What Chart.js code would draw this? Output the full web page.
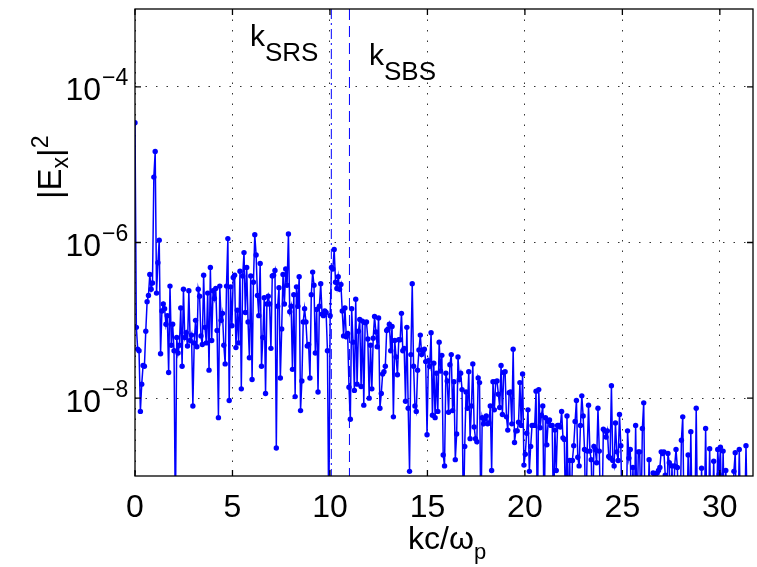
<!DOCTYPE html>
<html>
<head>
<meta charset="utf-8">
<script src="https://cdn.jsdelivr.net/npm/chart.js@4.4.1/dist/chart.umd.min.js"></script>
<style>
  html, body { margin: 0; padding: 0; background: #fff; }
  #wrap { width: 757px; height: 567px; }
</style>
</head>
<body>
<div id="wrap"><canvas id="spec"></canvas></div>
<script>
// log10(|Ex|^2) in order of k; -9.6 = below the axis
const segA = [-4.46, -7.09, -7.37, -7.39, -8.17, -7.82, -7.58, -7.59, -7.14, -6.76, -6.68, -6.41, -6.60, -6.52, -5.16, -4.83, -6.65, -6.26, -5.97, -7.43,
  -6.88, -6.79, -6.85, -7.05, -6.94, -7.67, -6.56, -7.32, -7.05, -7.39, -9.6, -7.22, -7.42, -7.32, -6.84, -7.59, -6.60, -7.22, -7.16, -7.33,
  -6.62, -7.26, -7.19, -8.10, -7.29, -7.00, -7.34, -6.60, -6.69, -7.20, -7.31, -6.42, -7.09, -7.29, -6.65, -7.64, -6.32];
const segB = [-7.26, -6.62, -6.72, -6.59, -7.13, -8.25, -6.56, -7.00, -6.91, -7.32, -7.56, -6.56, -5.95, -8.03, -6.57, -7.07, -6.45, -6.42, -7.35, -6.87,
  -7.29, -6.37, -7.88, -6.43, -6.13, -6.90, -6.32, -7.02, -7.48, -6.43, -7.76, -6.51, -5.90, -6.16, -6.68, -6.94, -6.27, -7.59, -7.22, -6.71,
  -7.94, -6.79, -6.69, -6.79, -7.36, -6.43, -6.42, -6.36, -8.64, -6.82, -6.58, -7.74, -7.11, -6.41, -6.79, -6.34];
const segC = [-6.55, -5.89, -6.89, -6.82, -7.63, -6.67, -7.98, -6.57, -6.82, -6.44, -8.16, -7.78, -7.02, -6.85, -7.02, -7.33, -7.31, -7.74, -6.67, -6.38,
  -6.55, -7.42, -6.86, -7.92, -6.82, -6.53, -6.92, -6.94, -6.88, -6.90, -7.39, -9.6, -6.94, -6.32, -6.34, -6.09, -6.51, -6.59, -6.44, -6.60,
  -6.54, -6.88, -7.20, -6.84, -7.21, -7.17, -7.86, -8.27, -6.85, -7.28, -7.90, -6.73, -7.82, -7.14, -6.99, -7.85, -7.01, -8.09, -7.03];
const segD = [-7.02, -7.24, -8.00, -7.32, -7.88, -7.23, -6.95, -7.15, -7.34, -6.97, -8.13, -7.94, -7.69, -7.66, -7.59, -7.13, -7.11, -7.05, -7.39, -7.08,
  -8.24, -7.26, -7.47, -7.70, -7.25, -7.25, -6.91, -7.39, -7.36, -8.04, -7.09, -8.13, -8.94, -7.44, -6.53, -7.59, -8.10, -8.17, -7.64, -7.38,
  -7.19, -7.44, -7.39, -7.37, -7.53, -8.47, -7.52, -7.59, -7.16, -8.22, -7.55, -8.25, -7.68, -8.17, -7.28, -7.65, -7.45, -8.73];
const segE = [-8.87, -7.68, -7.78, -8.18, -7.57, -7.44, -8.16, -7.79, -8.79, -8.46, -7.47, -7.76, -7.68, -7.89, -9.6, -8.62, -7.92, -8.13, -7.66, -8.52,
  -8.10, -7.56, -8.37, -8.52, -8.56, -7.74, -7.80, -9.6, -8.25, -8.33, -8.27, -8.23, -8.33, -8.32, -8.10, -8.93, -7.79, -8.15, -7.79, -7.78,
  -7.95, -8.12, -7.58, -8.21, -7.67, -7.66, -8.24, -8.41, -7.93, -7.92, -8.33, -7.37, -8.57, -8.42, -8.42, -8.31, -7.80];
const segF = [-8.35, -7.69, -8.86, -8.72, -8.45, -8.15, -8.94, -8.62, -8.35, -8.35, -8.35, -7.91, -9.6, -7.89, -8.38, -8.22, -8.10, -9.6, -8.25, -8.60,
  -8.30, -8.28, -8.35, -8.35, -9.6, -8.41, -8.93, -8.35, -8.35, -8.37, -8.17, -8.51, -8.53, -9.6, -8.23, -9.6, -8.80, -9.6, -8.80, -8.61,
  -8.30, -8.03, -8.76, -8.87, -8.35, -7.97, -8.23, -8.66, -9.6, -8.68, -8.09, -8.68, -8.79, -9.6, -8.62, -8.66, -8.83, -8.13];
const segG = [-8.68, -9.6, -9.6, -8.40, -8.42, -8.50, -8.42, -8.75, -8.77, -7.84, -8.80, -8.87, -8.32, -8.69, -8.80, -8.21, -8.61, -9.6, -9.6, -9.6,
  -9.6, -8.42, -8.77, -8.66, -9.6, -8.89, -9.6, -8.35, -9.6, -8.69, -8.69, -9.6, -8.39, -8.06, -9.6, -9.6, -9.6, -8.79, -9.6, -9.6,
  -8.96, -8.97, -9.6, -8.96, -8.93, -8.89, -8.69, -8.71, -8.69, -8.99, -9.6, -8.71, -8.83, -9.6, -8.87, -9.6, -8.87, -8.66];
const segH = [-8.89, -9.6, -9.6, -8.54, -8.24, -9.6, -9.6, -9.6, -8.73, -9.6, -8.43, -9.6, -9.6, -9.6, -8.13, -9.6, -9.6, -9.6, -8.90, -9.6,
  -9.6, -8.39, -9.6, -9.6, -8.65, -9.6, -9.6, -8.81, -9.6, -9.6, -8.66, -8.98, -8.63, -9.6, -8.68, -9.6, -8.93, -9.6, -9.6, -9.6,
  -9.6, -9.6, -8.94, -8.70, -9.6, -9.6, -8.66, -9.6, -9.6, -9.6, -9.6, -8.61, -9.6];

const logEx2 = [].concat(segA, segB, segC, segD, segE, segF, segG, segH);
const kLast = 31.41;           // k of the last sample
const kSRS = 10.07;
const kSBS = 11.0;
const xTicks = [0, 5, 10, 15, 20, 25, 30];
const yExps = [-8, -6, -4];

const dk = kLast / (logEx2.length - 1);
const spectrum = logEx2.map((v, i) => ({ x: i * dk, y: Math.pow(10, v) }));

const FONT = '"Liberation Sans", Arial, Helvetica, sans-serif';

function textRun(ctx, parts, x, y) {
  // parts: [text, size, shift]
  parts.forEach(p => {
    ctx.font = p[1] + 'px ' + FONT;
    ctx.fillText(p[0], x, y + p[2]);
    x += ctx.measureText(p[0]).width;
  });
}

const decor = {
  id: 'decor',
  afterDraw(chart) {
    const { ctx, chartArea: a, scales: { x, y } } = chart;
    ctx.save();
    ctx.strokeStyle = '#000';
    ctx.lineWidth = 1.3;
    ctx.strokeRect(a.left, a.top, a.right - a.left, a.bottom - a.top);
    ctx.beginPath();
    xTicks.forEach(v => {
      const px = x.getPixelForValue(v);
      ctx.moveTo(px, a.bottom); ctx.lineTo(px, a.bottom - 6);
      ctx.moveTo(px, a.top); ctx.lineTo(px, a.top + 6);
    });
    yExps.forEach(e => {
      const py = y.getPixelForValue(Math.pow(10, e));
      ctx.moveTo(a.left, py); ctx.lineTo(a.left + 6, py);
      ctx.moveTo(a.right, py); ctx.lineTo(a.right - 6, py);
    });
    ctx.stroke();

    ctx.fillStyle = '#000';
    ctx.textBaseline = 'alphabetic';
    yExps.forEach(e => {
      const py = y.getPixelForValue(Math.pow(10, e));
      ctx.font = '32px ' + FONT;
      ctx.textAlign = 'right';
      ctx.fillText('10', 101, py + 13.5);
      ctx.font = '23px ' + FONT;
      ctx.textAlign = 'left';
      ctx.fillText('\u2212' + Math.abs(e), 102, py - 1.5);
    });

    ctx.textAlign = 'left';
    // x title
    textRun(ctx, [['kc/\u03c9', 32, 0], ['p', 22, 10]], 408, 549);
    // y title, rotated
    ctx.save();
    ctx.translate(61, 199);
    ctx.rotate(-Math.PI / 2);
    textRun(ctx, [['|E', 33, 0], ['x', 23, 7], ['|', 33, 0], ['2', 23, -13]], 0, 0);
    ctx.restore();
    // resonance labels
    textRun(ctx, [['k', 30, 0], ['SRS', 26, 15]], 250, 46);
    textRun(ctx, [['k', 30, 0], ['SBS', 26, 15]], 369, 65);
    ctx.restore();
  }
};

new Chart(document.getElementById('spec'), {
  type: 'line',
  data: {
    datasets: [
      {
        data: spectrum,
        borderColor: '#0000ff',
        backgroundColor: '#0000ff',
        borderWidth: 1.5,
        pointRadius: 2.7,
        pointBorderWidth: 0,
        tension: 0
      },
      {
        data: [{ x: kSRS, y: 1e-3 }, { x: kSRS, y: 1e-9 }],
        borderColor: '#0000ff',
        borderWidth: 1,
        borderDash: [10, 4, 2, 4],
        pointRadius: 0
      },
      {
        data: [{ x: kSBS, y: 1e-3 }, { x: kSBS, y: 1e-9 }],
        borderColor: '#0000ff',
        borderWidth: 1,
        borderDash: [11, 6],
        pointRadius: 0
      }
    ]
  },
  options: {
    responsive: true,
    maintainAspectRatio: false,
    animation: false,
    layout: { padding: { top: 9, right: 2, left: 0, bottom: 0 } },
    plugins: { legend: { display: false }, tooltip: { enabled: false } },
    scales: {
      x: {
        type: 'linear',
        min: 0,
        max: 31.7,
        afterBuildTicks: s => { s.ticks = xTicks.map(v => ({ value: v })); },
        afterFit: s => { s.height = 91; },
        ticks: {
          autoSkip: false,
          maxRotation: 0,
          color: '#000',
          padding: 13,
          font: { family: FONT, size: 32 }
        },
        grid: { color: '#333', lineWidth: 1, drawTicks: false },
        border: { display: false, dash: [1.5, 9] }
      },
      y: {
        type: 'logarithmic',
        min: 1e-9,
        max: 1e-3,
        afterBuildTicks: s => { s.ticks = yExps.map(e => ({ value: Math.pow(10, e) })); },
        afterFit: s => { s.width = 135; },
        ticks: { display: false },
        grid: { color: '#333', lineWidth: 1, drawTicks: false },
        border: { display: false, dash: [1.5, 9] }
      }
    }
  },
  plugins: [decor]
});
</script>
</body>
</html>
